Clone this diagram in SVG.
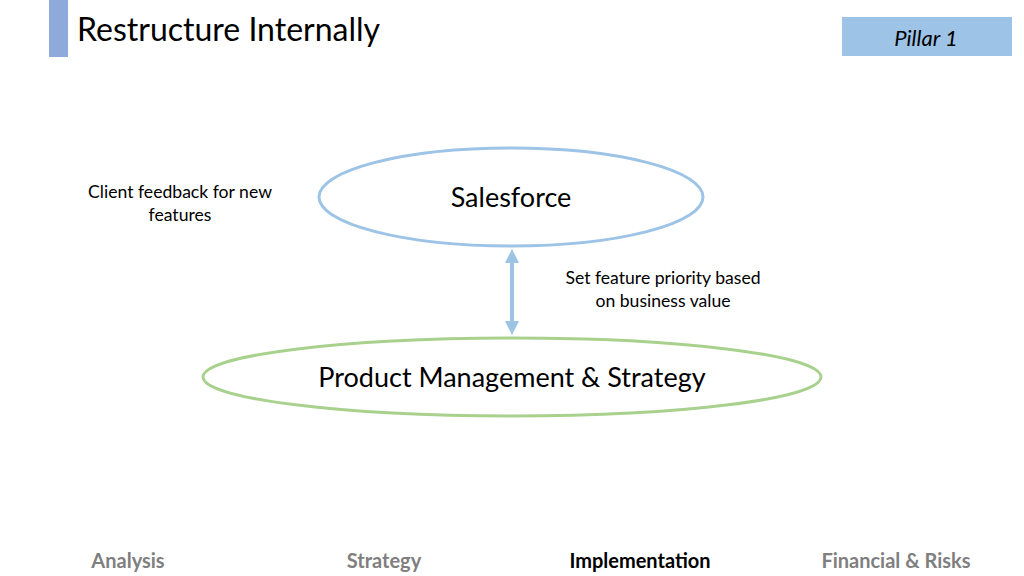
<svg xmlns="http://www.w3.org/2000/svg" width="1024" height="576" viewBox="0 0 1024 576">
<defs>
<style>
text{font-family:Lato,"Open Sans","Liberation Sans",sans-serif;fill:#000}
.lbl{font-size:17.6px;text-anchor:middle}
.nav{font-size:20px;font-weight:bold;text-anchor:middle;fill:#7f7f7f}
.node{font-size:27px;text-anchor:middle}
</style>
<marker id="ah" viewBox="0 0 10 10" refX="5" refY="5" markerWidth="3.5" markerHeight="3.5" orient="auto-start-reverse">
<path d="M0,0 L10,5 L0,10 z" fill="#9dc3e6"/>
</marker>
</defs>
<rect width="1024" height="576" fill="#fff"/>
<g id="header">
<rect x="49" y="0" width="19" height="57" fill="#8eaadb"/>
<text x="77" y="41" font-size="32">Restructure Internally</text>
<rect x="842" y="17" width="170" height="39" fill="#9dc3e6"/>
<text x="926" y="46" font-size="22" font-style="italic" text-anchor="middle">Pillar 1</text>
</g>
<g id="connectors">
<line x1="512" y1="256" x2="512" y2="328" stroke="#9dc3e6" stroke-width="4" marker-start="url(#ah)" marker-end="url(#ah)"/>
</g>
<g id="salesforce">
<ellipse cx="511" cy="197" rx="192" ry="49" fill="#fff" stroke="#9dc3e6" stroke-width="3"/>
<text class="node" x="511" y="207">Salesforce</text>
</g>
<g id="product">
<ellipse cx="512" cy="377" rx="309" ry="39" fill="#fff" stroke="#a9d18e" stroke-width="3"/>
<text class="node" x="512" y="387" font-size="27.3">Product Management &amp; Strategy</text>
</g>
<g id="label-client">
<text class="lbl" x="180" y="198">Client feedback for new</text>
<text class="lbl" x="180" y="221">features</text>
</g>
<g id="label-priority">
<text class="lbl" x="663" y="284">Set feature priority based</text>
<text class="lbl" x="663" y="307">on business value</text>
</g>
<g id="nav">
<text class="nav" x="128" y="568">Analysis</text>
<text class="nav" x="384" y="568">Strategy</text>
<text class="nav" x="640" y="568" style="fill:#000">Implementation</text>
<text class="nav" x="896" y="568">Financial &amp; Risks</text>
</g>
</svg>
